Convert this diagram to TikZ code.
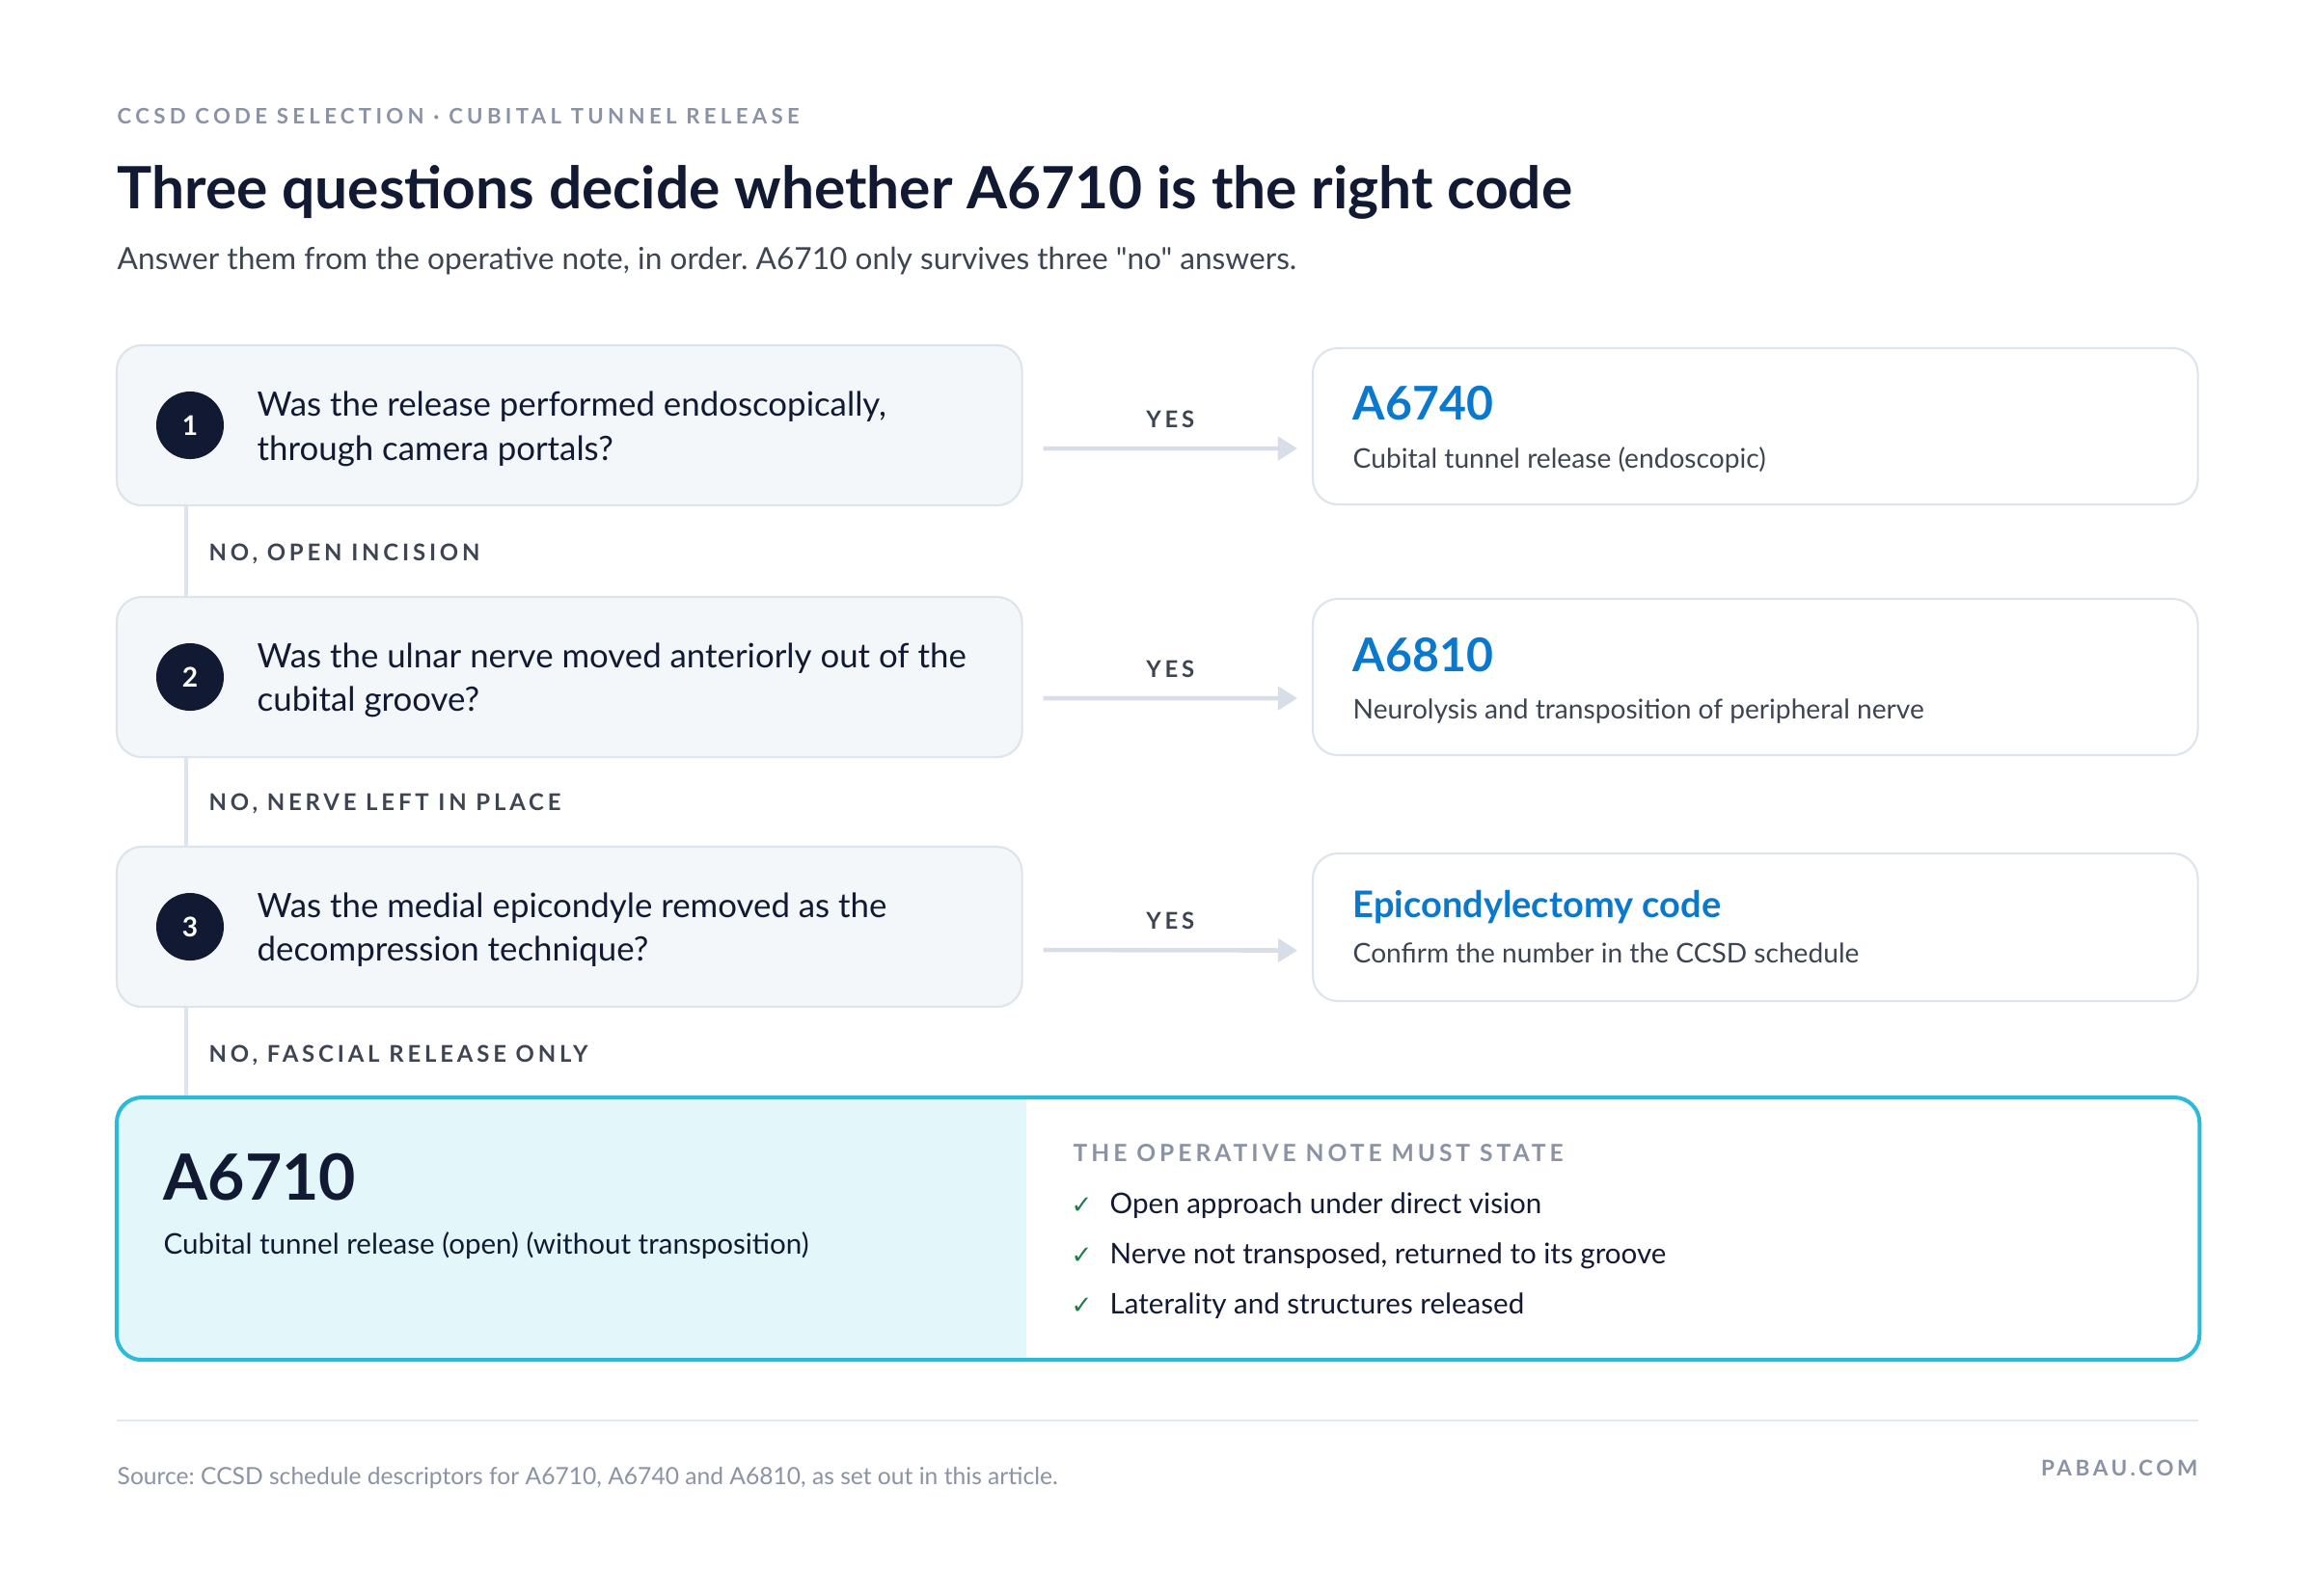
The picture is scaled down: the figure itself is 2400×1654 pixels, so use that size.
\documentclass[tikz,border=0pt]{standalone}
\usepackage{fontspec}
\setmainfont{Lato}[Ligatures=TeXOff]
\newfontfamily\trackfont[LetterSpace=16]{Lato}
\newfontfamily\symfont{DejaVu Sans}
\usetikzlibrary{positioning,calc,arrows.meta}

\definecolor{Navy}{HTML}{121A33}
\definecolor{Ink}{HTML}{3D4452}
\definecolor{Muted}{HTML}{8A93A5}
\definecolor{BoxFill}{HTML}{F3F7FA}
\definecolor{BoxLine}{HTML}{DDE4EC}
\definecolor{ArrowGrey}{HTML}{D8DEE8}
\definecolor{CodeBlue}{HTML}{0A78CC}
\definecolor{CyanLine}{HTML}{2BBAD9}
\definecolor{CyanFill}{HTML}{E3F6FA}
\definecolor{CheckGreen}{HTML}{1F7A4D}
\definecolor{RuleGrey}{HTML}{E2E8EE}

\newcommand{\qfont}{\fontsize{9.9}{12.8}\selectfont}
\newcommand{\descfont}{\fontsize{8}{9}\selectfont}
\newcommand{\tagfont}{\trackfont\bfseries\fontsize{6.8}{8}\selectfont}

\begin{document}
\frenchspacing
\begin{tikzpicture}[x=0.01cm, y=-0.01cm,
    qbox/.style={draw=BoxLine, fill=BoxFill, line width=0.6pt, rounded corners=0.26cm, minimum width=9.38cm, minimum height=1.66cm, anchor=north west, inner sep=0, outer sep=0},
    rbox/.style={draw=BoxLine, fill=white, line width=0.6pt, rounded corners=0.26cm, minimum width=9.17cm, anchor=north west, inner sep=0, outer sep=0},
    numdot/.style={circle, fill=Navy, text=white, minimum size=0.70cm, inner sep=0, font=\bfseries\fontsize{8}{9}\selectfont},
    qtext/.style={anchor=base west, inner sep=0, align=left, text=Navy, font=\qfont},
    notag/.style={anchor=base west, inner sep=0, text=Ink, font=\tagfont},
    code/.style={anchor=base west, inner sep=0, text=CodeBlue, font=\bfseries\fontsize{13.7}{15}\selectfont},
    desc/.style={anchor=base west, inner sep=0, text=Ink, font=\descfont},
    yesarrow/.style={draw=ArrowGrey, line width=1.3pt, -{Triangle[length=0.2cm, width=0.24cm]}},
    yestag/.style={anchor=base, inner sep=0, text=Ink, font=\tagfont, yshift=0.22cm},
    vline/.style={draw=BoxLine, line width=0.9pt}]

    \useasboundingbox [fill=white] (0,0) rectangle (2400,1654);

    \node [anchor=base west, inner sep=0, text=Muted, font=\trackfont\addfontfeature{LetterSpace=19.5}\bfseries\fontsize{6.3}{7}\selectfont] (kicker) at (121,128) {CCSD CODE SELECTION · CUBITAL TUNNEL RELEASE};
    \node [anchor=base west, inner sep=0, text=Navy, font=\bfseries\fontsize{17.2}{20}\selectfont] (title) at (121,216) {Three questions decide whether A6710 is the right code};
    \node [anchor=base west, inner sep=0, text=Ink, font=\fontsize{9}{10}\selectfont] (subtitle) at (121,279) {Answer them from the operative note, in order. A6710 only survives three "no" answers.};

    \node [qbox, minimum height=1.66cm] (q1) at (121,358) {};
    \node [qbox, minimum height=1.66cm] (q2) at (121,619) {};
    \node [qbox, minimum height=1.66cm] (q3) at (121,878) {};

    \node [numdot] (n1) at (197,441) {1};
    \node [numdot] (n2) at (197,702) {2};
    \node [numdot] (n3) at (197,961) {3};

    \node [qtext] (t1) at (266,477) {Was the release performed endoscopically,\\through camera portals?};
    \node [qtext] (t2) at (266,737) {Was the ulnar nerve moved anteriorly out of the\\cubital groove?};
    \node [qtext] (t3) at (266,996) {Was the medial epicondyle removed as the\\decompression technique?};

    \node [rbox, minimum height=1.62cm] (r1) at (1361,361) {};
    \node [rbox, minimum height=1.62cm] (r2) at (1361,621) {};
    \node [rbox, minimum height=1.53cm] (r3) at (1361,885) {};

    \node [code] (c1) at (1402,435) {A6740};
    \node [desc] (d1) at (1402,485) {Cubital tunnel release (endoscopic)};
    \node [code] (c2) at (1402,696) {A6810};
    \node [desc] (d2) at (1402,745) {Neurolysis and transposition of peripheral nerve};
    \node [code, font=\bfseries\fontsize{10.8}{12}\selectfont] (c3) at (1402,951) {Epicondylectomy code};
    \node [desc] (d3) at (1402,998) {Confirm the number in the CCSD schedule};

    \draw [yesarrow] ([xshift=0.22cm, yshift=-0.24cm]q1.east) -- ([xshift=-0.16cm, yshift=-0.23cm]r1.west) node [yestag, midway] (y1) {YES};
    \draw [yesarrow] ([xshift=0.22cm, yshift=-0.22cm]q2.east) -- ([xshift=-0.16cm, yshift=-0.22cm]r2.west) node [yestag, midway] (y2) {YES};
    \draw [yesarrow] ([xshift=0.22cm, yshift=-0.24cm]q3.east) -- ([xshift=-0.16cm, yshift=-0.24cm]r3.west) node [yestag, midway] (y3) {YES};

    \node [rectangle, fill=white, minimum width=21.58cm, minimum height=2.72cm, anchor=north west, inner sep=0, outer sep=0] (fin) at (121,1138) {};
    \begin{scope}
        \clip [rounded corners=0.26cm] (fin.north west) rectangle (fin.south east);
        \fill [CyanFill] (fin.north west) rectangle (1064,1410);
    \end{scope}
    \draw [CyanLine, line width=1.15pt, rounded corners=0.26cm] (fin.north west) rectangle (fin.south east);

    \draw [vline] ([xshift=0.72cm]q1.south west) -- ([xshift=0.72cm]q2.north west);
    \draw [vline] ([xshift=0.72cm]q2.south west) -- ([xshift=0.72cm]q3.north west);
    \draw [vline] ([xshift=0.72cm]q3.south west) -- ([xshift=0.72cm, yshift=0.02cm]fin.north west);

    \node [notag] (no1) at (216,581) {NO, OPEN INCISION};
    \node [notag] (no2) at (216,840) {NO, NERVE LEFT IN PLACE};
    \node [notag] (no3) at (216,1101) {NO, FASCIAL RELEASE ONLY};

    \node [anchor=base west, inner sep=0, text=Navy, font=\bfseries\fontsize{18.8}{21}\selectfont] (fcode) at (169,1244) {A6710};
    \node [anchor=base west, inner sep=0, text=Navy, font=\fontsize{8.4}{10}\selectfont] (fdesc) at (169,1300) {Cubital tunnel release (open) (without transposition)};
    \node [anchor=base west, inner sep=0, text=Muted, font=\trackfont\bfseries\fontsize{7}{8}\selectfont] (must) at (1112,1204) {THE OPERATIVE NOTE MUST STATE};
    \foreach \y/\t [count=\i] in {1258/{Open approach under direct vision}, 1310/{Nerve not transposed, returned to its groove}, 1362/{Laterality and structures released}}{
        \node [anchor=base west, inner sep=0, text=CheckGreen, font=\symfont\bfseries\fontsize{7.4}{8}\selectfont] (tick\i) at (1110,\y) {✓};
        \node [anchor=base west, inner sep=0, text=Navy, font=\fontsize{8.4}{10}\selectfont] (item\i) at (1150,\y) {\t};
    }

    \draw [RuleGrey, line width=0.6pt] (121,1473) -- (2279,1473);
    \node [anchor=base west, inner sep=0, text=Muted, font=\fontsize{7}{8}\selectfont] (source) at (121,1539) {Source: CCSD schedule descriptors for A6710, A6740 and A6810, as set out in this article.};
    \node [anchor=base east, inner sep=0, text=Muted, font=\trackfont\bfseries\fontsize{6.4}{7}\selectfont] (brand) at (2279,1530) {PABAU.COM};

\end{tikzpicture}
\end{document}
